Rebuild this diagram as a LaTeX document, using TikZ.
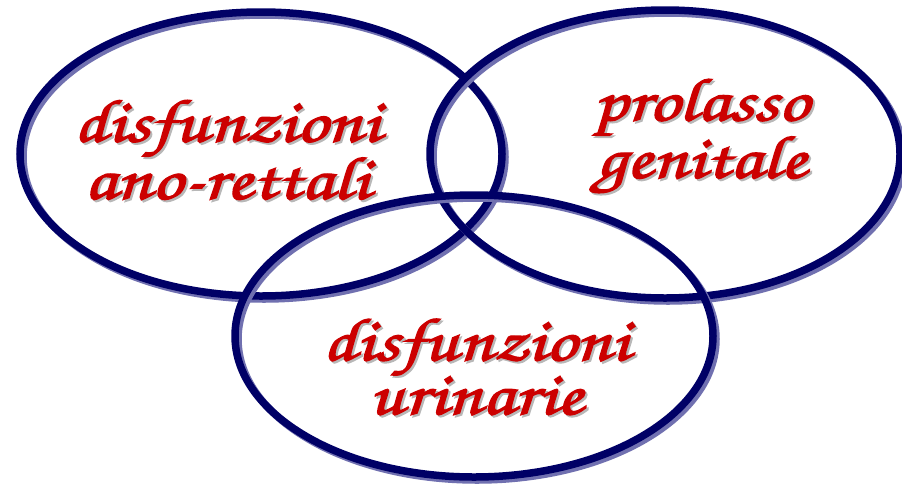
\documentclass[tikz,border=0pt]{standalone}
\usepackage{fontspec}
\newfontfamily\handfamily{texgyrechorus-mediumitalic.otf}[FakeBold=2]
\definecolor{ringnavy}{HTML}{000066}
\definecolor{ringshade}{HTML}{7070B0}
\definecolor{textred}{HTML}{CC0000}
\definecolor{textshade}{HTML}{B8B8B8}
\newcommand{\handfont}{\handfamily\fontsize{61}{50}\selectfont}
\tikzset{
  ring/.style={draw=ringnavy, line width=7.5pt},
  ringshadow/.style={draw=ringshade, line width=7.5pt},
  label/.style={align=center, text=textred, font=\handfont, xscale=1.25, inner sep=0pt},
  labelshadow/.style={align=center, text=textshade, font=\handfont, xscale=1.25, inner sep=0pt},
}
\begin{document}
\begin{tikzpicture}[x=1pt,y=-1pt]
\useasboundingbox (0,0) rectangle (902,485);
\fill[white] (0,0) rectangle (902,485);
\begin{scope}
\clip (0,0) rectangle (902,485);
% left ring
\draw[ringshadow] (264,157) ellipse [x radius=241, y radius=142];
\draw[ring] (261,154) ellipse [x radius=241, y radius=142];
% right ring
\draw[ringshadow] (668,157) ellipse [x radius=235, y radius=144];
\draw[ring] (665,154) ellipse [x radius=235, y radius=144];
% bottom ring
\draw[ringshadow] (477,339) ellipse [x radius=239, y radius=141];
\draw[ring] (474,336) ellipse [x radius=239, y radius=141];
\end{scope}
% labels
\node[labelshadow] at (229,152) {disfunzioni\\ano-rettali};
\node[label] (anorett) at (227,150) {disfunzioni\\ano-rettali};
\node[labelshadow] at (703,138) {prolasso\\genitale};
\node[label] (prolasso) at (701,136) {prolasso\\genitale};
\node[labelshadow] at (478,369) {disfunzioni\\urinarie};
\node[label] (urinarie) at (476,367) {disfunzioni\\urinarie};
\end{tikzpicture}
\end{document}
